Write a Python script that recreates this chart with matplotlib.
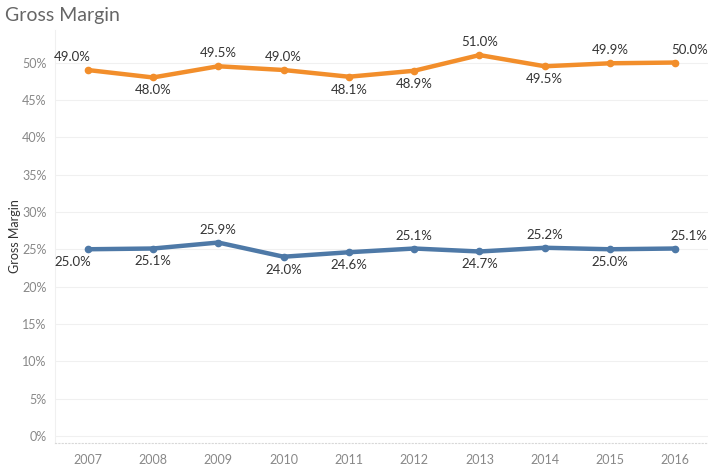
import matplotlib
matplotlib.use('Agg')
import matplotlib.pyplot as plt
from matplotlib.ticker import FuncFormatter

plt.rcParams['font.family'] = ['Lato', 'DejaVu Sans']

# data
years = ['2007', '2008', '2009', '2010', '2011', '2012', '2013', '2014', '2015', '2016']
orange_vals = [49.0, 48.0, 49.5, 49.0, 48.1, 48.9, 51.0, 49.5, 49.9, 50.0]
blue_vals = [25.0, 25.1, 25.9, 24.0, 24.6, 25.1, 24.7, 25.2, 25.0, 25.1]
# label above (1) or below (-1) the point
orange_side = [1, -1, 1, 1, -1, -1, 1, -1, 1, 1]
blue_side = [-1, -1, 1, -1, -1, 1, -1, 1, -1, 1]

ORANGE = '#F28E2B'
BLUE = '#4E79A7'

fig = plt.figure(figsize=(7.2, 4.74), dpi=100)
ax = fig.add_axes([0.0764, 0.0654, 0.907, 0.872])

x = list(range(len(years)))


def draw_series(vals, sides, color):
    ax.plot(x, vals, color=color, linewidth=3.2, marker='o', markersize=4.5,
            solid_capstyle='round', zorder=3)
    for i, (v, s) in enumerate(zip(vals, sides)):
        dx = 0
        if i == 0:
            dx = -11
        elif i == len(vals) - 1:
            dx = 10
        ax.annotate('%.1f%%' % v, (i, v), xytext=(dx, 5 * s), textcoords='offset points',
                    ha='center', va='bottom' if s > 0 else 'top',
                    fontsize=9.5, color='#333333')


draw_series(orange_vals, orange_side, ORANGE)
draw_series(blue_vals, blue_side, BLUE)

ax.set_xlim(-0.5, len(years) - 0.5)
ax.set_ylim(-0.94, 54.4)
ax.set_yticks(range(0, 55, 5))
ax.yaxis.set_major_formatter(FuncFormatter(lambda v, p: '%d%%' % v))
ax.set_xticks(x)
ax.set_xticklabels(years)
ax.tick_params(axis='both', length=0, labelsize=9, labelcolor='#888888')
ax.tick_params(axis='x', pad=8)
ax.tick_params(axis='y', pad=6)

ax.grid(axis='y', color='#f0f0f0', linewidth=0.8)
ax.set_axisbelow(True)
for sp in ['top', 'right']:
    ax.spines[sp].set_visible(False)
ax.spines['left'].set_color('#f0f0f0')
ax.spines['bottom'].set_color('#d8d8d8')
ax.spines['bottom'].set_linestyle((0, (1, 2)))

ax.set_ylabel('Gross Margin', fontsize=9, color='#333333', labelpad=1)
fig.text(0.007, 0.967, 'Gross Margin', fontsize=14, color='#666666', va='center')

fig.savefig('out.png', dpi=100)
